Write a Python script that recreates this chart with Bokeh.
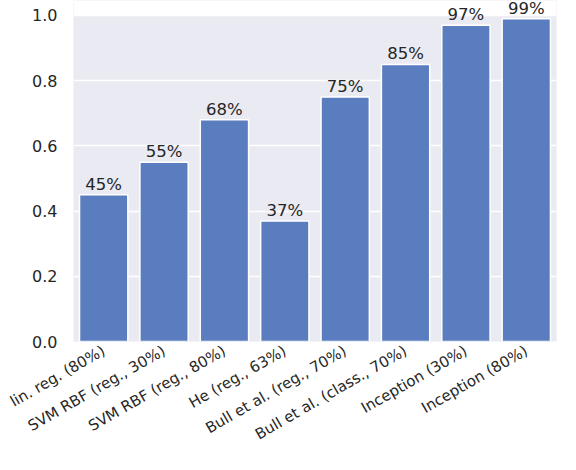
import math
from bokeh.plotting import figure
from bokeh.models import (ColumnDataSource, FactorRange, Range1d, FixedTicker,
                          PrintfTickFormatter, BoxAnnotation)
from bokeh.core.properties import value
from bokeh.embed import file_html
from bokeh.resources import INLINE

categories = ["lin. reg. (80%)", "SVM RBF (reg., 30%)", "SVM RBF (reg., 80%)", "He (reg., 63%)",
              "Bull et al. (reg., 70%)", "Bull et al. (class., 70%)", "Inception (30%)", "Inception (80%)"]
values = [0.45, 0.55, 0.68, 0.37, 0.75, 0.85, 0.97, 0.99]
bar_labels = ["45%", "55%", "68%", "37%", "75%", "85%", "97%", "99%"]
y_ticks = [0.0, 0.2, 0.4, 0.6, 0.8, 1.0]
y_max = 1.0

FONT = "DejaVu Sans"
TXT = "#262626"

src = ColumnDataSource(dict(cat=categories, val=values, lab=bar_labels))

# the frame extends a little above 1.0 so the value labels are not clipped;
# that strip is painted white to look like the page margin
p = figure(x_range=FactorRange(*categories, range_padding=0), y_range=Range1d(0, 1.046),
           width=560, height=454, output_backend="svg", toolbar_location=None,
           min_border_left=73, min_border_right=4, min_border_top=0, min_border_bottom=98)
p.background_fill_color = "#EAEAF2"
p.border_fill_color = "white"
p.outline_line_color = None

p.add_layout(BoxAnnotation(bottom=y_max, fill_color="white", fill_alpha=1.0,
                           line_color=None, level="underlay"))

p.vbar(x="cat", top="val", width=0.8, source=src, fill_color="#5A7DBF",
       line_color="white", line_width=1.5)
p.text(x="cat", y="val", text="lab", source=src, text_align="center", text_baseline="bottom",
       y_offset=-1, text_font=value(FONT), text_font_size="16.5px", text_color=TXT)

p.xgrid.grid_line_color = None
p.ygrid.grid_line_color = "white"
p.ygrid.grid_line_width = 1.5
p.yaxis.ticker = FixedTicker(ticks=y_ticks)
p.yaxis.formatter = PrintfTickFormatter(format="%.1f")
for ax in (p.xaxis, p.yaxis):
    ax.axis_line_color = None
    ax.major_tick_line_color = None
    ax.minor_tick_line_color = None
    ax.major_label_text_font = FONT
    ax.major_label_text_color = TXT
p.yaxis.major_label_text_font_size = "16px"
p.xaxis.major_label_text_font_size = "15px"
p.yaxis.major_label_standoff = 10
p.xaxis.major_label_standoff = 2
p.xaxis.major_label_orientation = math.pi / 6

open("out.html", "w").write(file_html(p, INLINE))
